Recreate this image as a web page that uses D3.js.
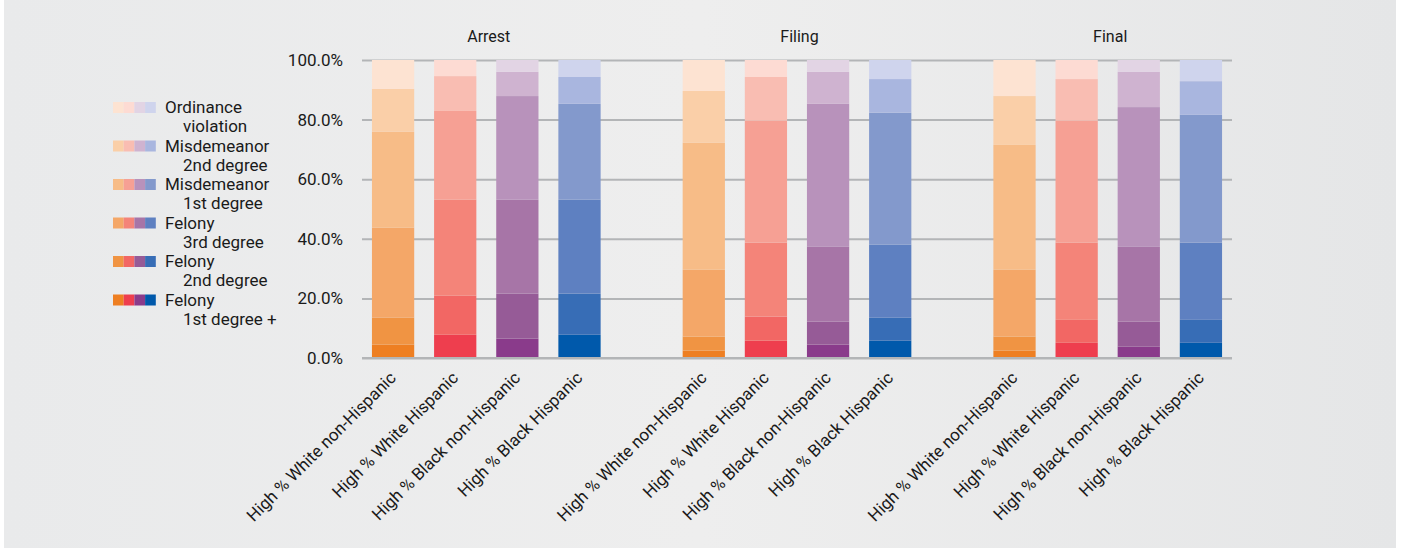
<!DOCTYPE html>
<html>
<head>
<meta charset="utf-8">
<script src="https://cdn.jsdelivr.net/npm/d3@7"></script>
<style>
  body { margin: 0; background: #fff; }
  svg text { font-family: "Liberation Sans Narrow", "Roboto", sans-serif; fill: #1a1a1a; }
</style>
</head>
<body>
<svg id="chart" width="1415" height="550"></svg>
<script>
// ---- data (percent of cases, stacked bottom -> top) ----
const stages = ['Arrest', 'Filing', 'Final'];
const groups = ['High % White non-Hispanic', 'High % White Hispanic', 'High % Black non-Hispanic', 'High % Black Hispanic'];
const levels = ['Felony 1st degree +', 'Felony 2nd degree', 'Felony 3rd degree', 'Misdemeanor 1st degree', 'Misdemeanor 2nd degree', 'Ordinance violation'];
const legendLines = [
  ['Felony', '1st degree +'], ['Felony', '2nd degree'], ['Felony', '3rd degree'],
  ['Misdemeanor', '1st degree'], ['Misdemeanor', '2nd degree'], ['Ordinance', 'violation']
];

// values per stage, per group, in order of levels
const arrest = [
  [4.5, 9.1, 30.1, 32.2, 14.4, 9.7],
  [7.8, 13.1, 32.2, 29.8, 11.7, 5.4],
  [6.5, 15.1, 31.5, 34.8, 8.1, 4.0],
  [7.8, 13.8, 31.5, 32.2, 9.0, 5.7]
];
const filing = [
  [2.5, 4.7, 22.4, 42.6, 17.4, 10.4],
  [5.8, 8.1, 24.8, 40.9, 14.7, 5.7],
  [4.5, 7.7, 25.1, 48.0, 10.7, 4.0],
  [5.8, 7.7, 24.5, 44.3, 11.3, 6.4]
];
const finalDisp = [
  [2.5, 4.7, 22.4, 41.9, 16.4, 12.1],
  [5.1, 7.7, 25.9, 40.9, 14.0, 6.4],
  [3.8, 8.4, 25.1, 46.9, 11.8, 4.0],
  [5.1, 7.7, 25.9, 42.9, 11.3, 7.1]
];
const stageValues = [arrest, filing, finalDisp];
const yTicks = [0, 0.2, 0.4, 0.6, 0.8, 1.0];

// colour ramps per group, dark (felony 1st) -> light (ordinance)
const palette = [
  ['#ee7f22', '#f09443', '#f4a768', '#f7bc87', '#facfa8', '#fde3d2'],
  ['#ee3e4e', '#f26764', '#f48479', '#f6a094', '#f9bdb2', '#fddbd3'],
  ['#8a3b8b', '#965b97', '#a775a7', '#b892bb', '#cfb3d0', '#e2d4e4'],
  ['#0059ab', '#376db6', '#5e80c1', '#8399cc', '#a9b6df', '#cfd4ed']
];

const svg = d3.select('#chart');

// background panel
const defs = svg.append('defs');
const grad = defs.append('linearGradient').attr('id', 'bg').attr('x1', 0).attr('x2', 1).attr('y1', 0).attr('y2', 0);
grad.append('stop').attr('offset', '0%').attr('stop-color', '#e9eaeb');
grad.append('stop').attr('offset', '50%').attr('stop-color', '#eeeeee');
grad.append('stop').attr('offset', '100%').attr('stop-color', '#e5e6e7');
svg.append('rect').attr('x', 4).attr('y', 0).attr('width', 1392).attr('height', 548).attr('fill', 'url(#bg)');

const margin = { left: 362, right: 183, top: 60, bottom: 192 };
const width = 1415 - margin.left - margin.right;
const height = 550 - margin.top - margin.bottom;

const g = svg.append('g').attr('transform', `translate(${margin.left}, ${margin.top})`);

const xStage = d3.scaleBand().domain(stages).range([0, width]).paddingInner(0.2).paddingOuter(0);
const xGroup = d3.scaleBand().domain(groups).range([0, xStage.bandwidth()]).paddingInner(0.32).paddingOuter(0.16);
const y = d3.scaleLinear().domain([0, 1]).range([height, 0]);

// grid + y axis
const yAxis = d3.axisLeft(y).tickValues(yTicks).tickFormat(d3.format('.1%')).tickSize(-width).tickPadding(19);
const axisY = g.append('g').attr('class', 'axis--y').call(yAxis);
axisY.select('.domain').remove();
axisY.selectAll('line').attr('stroke', '#b3b5b7').attr('stroke-width', 2);
axisY.selectAll('text').style('font-size', '17px').attr('fill', '#1a1a1a');

const stack = d3.stack().keys(d3.range(levels.length));

stages.forEach((stage, si) => {
  const sg = g.append('g').attr('class', 'stage').attr('transform', `translate(${xStage(stage)}, 0)`);

  sg.append('text')
    .attr('x', xStage.bandwidth() / 2 + 2.5)
    .attr('y', -18)
    .attr('text-anchor', 'middle')
    .style('font-size', '16px')
    .text(stage);

  const rows = stageValues[si].map(v => v.map(p => p / 100));
  const series = stack(rows);

  groups.forEach((grp, gi) => {
    const bar = sg.append('g').attr('transform', `translate(${xGroup(grp)}, 0)`);
    bar.selectAll('rect')
      .data(series.map(s => s[gi]))
      .join('rect')
      .attr('x', 0)
      .attr('width', xGroup.bandwidth())
      .attr('y', d => y(d[1]))
      .attr('height', d => y(d[0]) - y(d[1]))
      .attr('fill', (d, li) => palette[gi][li]);
  });

  // category labels, rotated
  sg.selectAll('.xlabel')
    .data(groups)
    .join('text')
    .attr('class', 'xlabel')
    .attr('text-anchor', 'end')
    .attr('transform', d => `translate(${xGroup(d) + xGroup.bandwidth() / 2 + 4}, ${height + 21}) rotate(-45)`)
    .style('font-size', '17px')
    .text(d => d);
});

// baseline on top of bars
g.append('line').attr('x1', 0).attr('x2', width).attr('y1', y(0)).attr('y2', y(0))
  .attr('stroke', '#b3b5b7').attr('stroke-width', 2);

// legend (top = ordinance)
const legend = svg.append('g').attr('class', 'legend').attr('transform', 'translate(113, 102)');
const order = d3.range(levels.length).reverse();
order.forEach((li, row) => {
  const lg = legend.append('g').attr('transform', `translate(0, ${row * 38.5})`);
  palette.forEach((ramp, gi) => {
    lg.append('rect').attr('x', gi * 10.7).attr('y', 0).attr('width', 10.7).attr('height', 11).attr('fill', ramp[li]);
  });
  lg.append('text').attr('x', 52).attr('y', 11).style('font-size', '17px').text(legendLines[li][0]);
  lg.append('text').attr('x', 70).attr('y', 30).style('font-size', '17px').text(legendLines[li][1]);
});
</script>
</body>
</html>
